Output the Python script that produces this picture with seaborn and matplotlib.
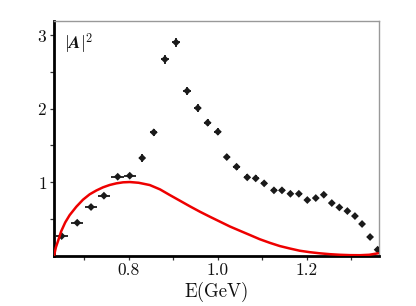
import numpy as np
import seaborn as sns
import matplotlib.pyplot as plt

# data points (E in GeV, |A|^2)
energy = [0.649, 0.684, 0.715, 0.744, 0.775, 0.802, 0.830, 0.856, 0.881, 0.906,
          0.931, 0.955, 0.977, 1.000, 1.020, 1.042, 1.066, 1.085, 1.104, 1.126,
          1.144, 1.163, 1.182, 1.201, 1.220, 1.238, 1.256, 1.273, 1.291, 1.308,
          1.324, 1.342, 1.359]
amp2 = [0.265, 0.446, 0.660, 0.814, 1.072, 1.086, 1.327, 1.676, 2.670, 2.900,
        2.240, 2.007, 1.807, 1.684, 1.340, 1.208, 1.064, 1.050, 0.982, 0.887,
        0.887, 0.840, 0.840, 0.755, 0.782, 0.827, 0.714, 0.655, 0.605, 0.537,
        0.429, 0.252, 0.079]
xerr = [0.014, 0.014, 0.014, 0.014, 0.014, 0.014, 0.007, 0.008, 0.009, 0.009,
        0.009, 0.008, 0.008, 0.008, 0.007, 0.007, 0.007, 0.007, 0.006, 0.006,
        0.006, 0.006, 0.006, 0.006, 0.006, 0.006, 0.006, 0.006, 0.006, 0.006,
        0.006, 0.006, 0.006]
yerr = [0.02, 0.02, 0.02, 0.02, 0.03, 0.03, 0.05, 0.05, 0.06, 0.06,
        0.06, 0.05, 0.05, 0.05, 0.04, 0.04, 0.04, 0.04, 0.03, 0.03,
        0.03, 0.03, 0.03, 0.03, 0.03, 0.03, 0.03, 0.03, 0.03, 0.03,
        0.03, 0.03, 0.03]

# model curve
curve_e = [0.632, 0.636, 0.641, 0.648, 0.657, 0.667, 0.682, 0.697, 0.712, 0.727,
           0.742, 0.757, 0.772, 0.787, 0.802, 0.822, 0.847, 0.870, 0.892, 0.915,
           0.937, 0.960, 0.982, 1.005, 1.027, 1.049, 1.072, 1.094, 1.117, 1.139,
           1.162, 1.184, 1.207, 1.229, 1.252, 1.274, 1.297, 1.319, 1.340, 1.360]
curve_y = [0.0, 0.11, 0.2, 0.33, 0.45, 0.55, 0.664, 0.76, 0.833, 0.885,
           0.928, 0.96, 0.982, 0.996, 1.0, 0.99, 0.959, 0.9, 0.823, 0.745,
           0.67, 0.595, 0.528, 0.46, 0.395, 0.338, 0.279, 0.222, 0.172, 0.129,
           0.095, 0.065, 0.045, 0.03, 0.018, 0.01, 0.005, 0.004, 0.01, 0.03]

sns.set_style("ticks")
plt.rcParams['font.family'] = ['cmr10', 'DejaVu Serif']
plt.rcParams['mathtext.fontset'] = 'cm'
plt.rcParams['axes.formatter.use_mathtext'] = True

fig = plt.figure(figsize=(4.16, 3.06), dpi=100)
ax = fig.add_axes([0.130, 0.165, 0.781, 0.766])

ax.errorbar(energy, amp2, xerr=xerr, yerr=yerr, fmt='none', ecolor='#1a1a1a',
            elinewidth=1.3, capsize=0, zorder=3)
sns.scatterplot(x=energy, y=amp2, ax=ax, color='#1a1a1a', marker='D', s=16,
                edgecolor='none', zorder=4)
sns.lineplot(x=curve_e, y=curve_y, ax=ax, color='#ee0000', linewidth=1.8,
             sort=False, estimator=None, zorder=5)

ax.set_xlim(0.632, 1.362)
ax.set_ylim(0, 3.19)
ax.set_xticks([0.8, 1.0, 1.2])
ax.set_xticklabels(['0.8', '1.0', '1.2'])
ax.set_xticks([0.7, 0.9, 1.1, 1.3], minor=True)
ax.set_yticks([1, 2, 3])
ax.set_yticks([0.5, 1.5, 2.5], minor=True)
ax.tick_params(which='both', direction='out', length=3, width=0.9, labelsize=12.5,
               colors='#333333', labelcolor='#111111')
ax.tick_params(which='major', pad=2)

for side in ['left', 'bottom']:
    ax.spines[side].set_linewidth(2.0)
    ax.spines[side].set_color('black')
for side in ['top', 'right']:
    ax.spines[side].set_visible(True)
    ax.spines[side].set_linewidth(1.0)
    ax.spines[side].set_color('#999999')

ax.set_xlabel('E(GeV)', fontsize=13.5, labelpad=3, color='#111111')
ax.set_ylabel('')
ax.text(0.03, 0.955, r'$|\mathbfit{A}|^2$', transform=ax.transAxes, fontsize=12.5,
        ha='left', va='top', color='#111111')

fig.savefig('out.png', dpi=100)
